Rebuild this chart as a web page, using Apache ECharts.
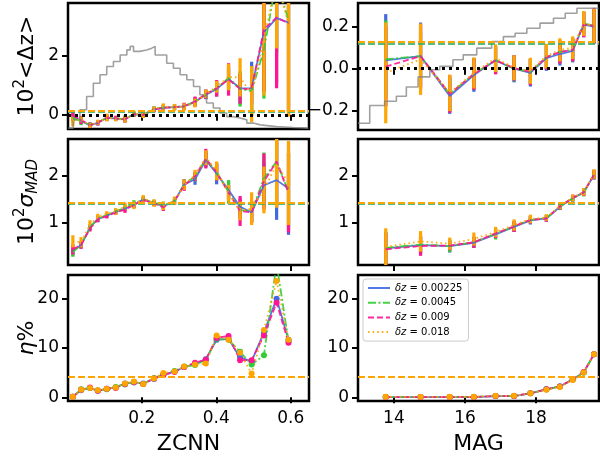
<!DOCTYPE html>
<html>
<head>
<meta charset="utf-8">
<script src="https://cdn.jsdelivr.net/npm/echarts/dist/echarts.min.js"></script>
<style>
  html, body { margin: 0; padding: 0; background: #ffffff; }
  #chart { width: 600px; height: 462px; }
</style>
</head>
<body>
<div id="chart"></div>
<script>
// ---- bin centres -------------------------------------------------------
const zcnnBins = [0.015, 0.037, 0.061, 0.082, 0.106, 0.130, 0.155, 0.179, 0.204, 0.233, 0.258,
                  0.288, 0.314, 0.343, 0.372, 0.401, 0.433, 0.464, 0.495, 0.528, 0.562, 0.594];
const magBins = [13.77, 14.75, 15.57, 16.25, 16.86, 17.38, 17.84, 18.29, 18.67, 19.03, 19.34, 19.63];

const seriesNames = ['δz = 0.00225', 'δz = 0.0045', 'δz = 0.009', 'δz = 0.018'];

// ---- 10^2 <Δz> vs ZCNN -------------------------------------------------
const dzZcnnBlue   = [-0.05, -0.20, -0.36, -0.27, -0.10, -0.13, -0.15, 0.02, 0.00, 0.18, 0.24, 0.26, 0.29, 0.44, 0.68, 0.87, 1.22, 0.90, 0.90, 2.80, 3.28, 3.13];
const dzZcnnGreen  = [-0.10, -0.22, -0.34, -0.26, -0.10, -0.12, -0.14, 0.03, 0.01, 0.20, 0.25, 0.26, 0.29, 0.45, 0.70, 0.90, 1.25, 0.88, 0.80, 2.20, 4.60, 3.20];
const dzZcnnPink   = [-0.02, -0.17, -0.35, -0.27, -0.09, -0.12, -0.15, 0.02, 0.00, 0.18, 0.24, 0.26, 0.29, 0.45, 0.70, 0.90, 1.20, 0.88, 0.88, 2.90, 3.30, 3.10];
const dzZcnnOrange = [-0.22, -0.15, -0.36, -0.25, -0.09, -0.15, -0.15, 0.03, -0.01, 0.20, 0.28, 0.26, 0.27, 0.40, 0.71, 0.95, 1.28, 1.27, 0.70, 2.60, 4.50, 3.10];
const dzZcnnErrBlue   = [0.15, 0.12, 0.09, 0.09, 0.11, 0.08, 0.10, 0.08, 0.10, 0.09, 0.10, 0.10, 0.11, 0.15, 0.15, 0.25, 0.32, 0.55, 0.90, 2.00, 2.20, 3.00];
const dzZcnnErrGreen  = [0.16, 0.13, 0.09, 0.08, 0.11, 0.08, 0.12, 0.09, 0.10, 0.09, 0.10, 0.10, 0.11, 0.15, 0.15, 0.22, 0.40, 0.60, 0.85, 1.65, 2.50, 3.10];
const dzZcnnErrPink   = [0.17, 0.14, 0.09, 0.09, 0.12, 0.09, 0.11, 0.08, 0.10, 0.09, 0.11, 0.10, 0.12, 0.17, 0.16, 0.28, 0.55, 0.50, 0.50, 2.10, 2.40, 3.10];
const dzZcnnErrOrange = [0.17, 0.10, 0.085, 0.085, 0.13, 0.07, 0.11, 0.085, 0.10, 0.085, 0.11, 0.11, 0.12, 0.15, 0.14, 0.20, 0.45, 0.65, 0.95, 1.95, 2.25, 3.16];

// ---- 10^2 σ_MAD vs ZCNN ------------------------------------------------
const sigZcnnBlue   = [0.40, 0.52, 0.90, 1.08, 1.15, 1.23, 1.30, 1.38, 1.50, 1.42, 1.35, 1.46, 1.82, 1.93, 2.34, 2.05, 1.70, 1.34, 1.22, 1.80, 1.91, 1.73];
const sigZcnnGreen  = [0.37, 0.52, 0.90, 1.08, 1.16, 1.24, 1.32, 1.40, 1.50, 1.43, 1.37, 1.46, 1.83, 1.98, 2.36, 2.08, 1.66, 1.27, 1.24, 1.95, 2.31, 1.66];
const sigZcnnPink   = [0.43, 0.52, 0.87, 1.07, 1.14, 1.22, 1.28, 1.38, 1.49, 1.41, 1.33, 1.46, 1.80, 1.99, 2.37, 2.08, 1.64, 1.25, 1.22, 1.88, 2.31, 1.64];
const sigZcnnOrange = [0.60, 0.58, 0.96, 1.12, 1.19, 1.24, 1.35, 1.37, 1.52, 1.42, 1.36, 1.47, 1.81, 2.02, 2.39, 2.11, 1.63, 1.25, 1.30, 1.70, 2.25, 1.85];
const sigZcnnErrBlue   = [0.10, 0.07, 0.06, 0.07, 0.05, 0.05, 0.06, 0.07, 0.06, 0.06, 0.08, 0.07, 0.10, 0.12, 0.16, 0.23, 0.20, 0.18, 0.22, 0.50, 0.85, 0.99];
const sigZcnnErrGreen  = [0.10, 0.07, 0.06, 0.06, 0.05, 0.06, 0.07, 0.08, 0.06, 0.06, 0.08, 0.07, 0.10, 0.10, 0.17, 0.18, 0.25, 0.18, 0.22, 0.55, 0.90, 0.82];
const sigZcnnErrPink   = [0.11, 0.08, 0.06, 0.06, 0.05, 0.05, 0.07, 0.06, 0.06, 0.06, 0.08, 0.07, 0.12, 0.10, 0.21, 0.18, 0.15, 0.32, 0.23, 0.60, 0.97, 0.85];
const sigZcnnErrOrange = [0.13, 0.11, 0.09, 0.07, 0.055, 0.07, 0.08, 0.08, 0.07, 0.08, 0.09, 0.09, 0.11, 0.11, 0.16, 0.20, 0.18, 0.20, 0.35, 0.50, 0.93, 0.90];

// ---- η% vs ZCNN --------------------------------------------------------
const etaZcnnBlue   = [0.1, 1.4, 1.9, 1.3, 1.7, 2.0, 2.8, 3.0, 2.8, 3.7, 4.6, 5.2, 6.1, 6.7, 7.7, 11.6, 11.8, 8.0, 7.3, 13.1, 19.9, 11.6];
const etaZcnnGreen  = [0.1, 1.6, 1.9, 1.4, 1.6, 2.1, 2.6, 3.1, 2.7, 3.9, 4.6, 5.3, 6.2, 6.5, 7.6, 11.8, 11.6, 9.2, 6.6, 8.5, 27.0, 11.3];
const etaZcnnPink   = [0.1, 1.5, 2.0, 1.3, 1.7, 1.9, 2.7, 3.1, 2.7, 3.8, 4.5, 5.1, 6.1, 7.0, 7.6, 12.0, 12.4, 7.5, 7.5, 12.5, 19.1, 11.0];
const etaZcnnOrange = [0.1, 1.5, 1.9, 1.4, 1.7, 2.0, 2.8, 3.2, 2.7, 3.8, 4.9, 5.2, 6.2, 6.6, 6.8, 12.5, 11.6, 9.0, 4.8, 13.6, 23.5, 11.6];

// ---- 10^2 <Δz> vs MAG --------------------------------------------------
const dzMagBlue   = [0.04, 0.06, -0.13, -0.03, 0.04, 0.000, -0.020, 0.050, 0.070, 0.085, 0.210, 0.200];
const dzMagGreen  = [0.045, 0.06, -0.12, -0.025, 0.04, 0.000, -0.015, 0.055, 0.080, 0.090, 0.215, 0.205];
const dzMagPink   = [0.01, 0.06, -0.12, -0.025, 0.04, 0.003, -0.015, 0.055, 0.080, 0.090, 0.210, 0.205];
const dzMagOrange = [-0.02, 0.045, -0.115, -0.02, 0.05, 0.005, -0.010, 0.060, 0.090, 0.100, 0.215, 0.205];
const dzMagErrBlue   = [0.22, 0.16, 0.085, 0.080, 0.065, 0.065, 0.065, 0.060, 0.055, 0.055, 0.060, 0.080];
const dzMagErrGreen  = [0.185, 0.112, 0.085, 0.075, 0.065, 0.060, 0.060, 0.058, 0.055, 0.055, 0.058, 0.075];
const dzMagErrPink   = [0.19, 0.15, 0.090, 0.076, 0.067, 0.060, 0.063, 0.060, 0.056, 0.055, 0.060, 0.085];
const dzMagErrOrange = [0.24, 0.17, 0.087, 0.074, 0.066, 0.059, 0.062, 0.059, 0.055, 0.054, 0.059, 0.080];

// ---- 10^2 σ_MAD vs MAG -------------------------------------------------
const sigMagBlue   = [0.45, 0.52, 0.50, 0.57, 0.75, 0.91, 1.05, 1.09, 1.34, 1.52, 1.65, 2.02];
const sigMagGreen  = [0.46, 0.53, 0.50, 0.58, 0.76, 0.92, 1.06, 1.10, 1.34, 1.52, 1.64, 2.03];
const sigMagPink   = [0.43, 0.50, 0.51, 0.58, 0.77, 0.92, 1.06, 1.09, 1.35, 1.53, 1.65, 2.03];
const sigMagOrange = [0.48, 0.60, 0.55, 0.65, 0.80, 0.95, 1.08, 1.11, 1.36, 1.53, 1.66, 2.04];
const sigMagErrBlue   = [0.35, 0.18, 0.14, 0.11, 0.10, 0.11, 0.09, 0.07, 0.07, 0.07, 0.08, 0.10];
const sigMagErrGreen  = [0.35, 0.18, 0.13, 0.12, 0.12, 0.11, 0.08, 0.07, 0.07, 0.07, 0.08, 0.10];
const sigMagErrPink   = [0.35, 0.21, 0.10, 0.12, 0.10, 0.12, 0.08, 0.07, 0.07, 0.07, 0.08, 0.10];
const sigMagErrOrange = [0.40, 0.22, 0.13, 0.14, 0.11, 0.12, 0.09, 0.07, 0.07, 0.07, 0.08, 0.10];

// ---- η% vs MAG ---------------------------------------------------------
const etaMagBlue   = [0.05, 0.05, 0.05, 0.05, 0.25, 0.25, 0.8, 1.6, 2.2, 3.6, 5.0, 8.7];
const etaMagGreen  = [0.05, 0.05, 0.05, 0.06, 0.25, 0.26, 0.8, 1.6, 2.2, 3.6, 5.0, 8.7];
const etaMagPink   = [0.05, 0.05, 0.05, 0.05, 0.25, 0.25, 0.8, 1.6, 2.2, 3.6, 5.1, 8.7];
const etaMagOrange = [0.10, 0.10, 0.10, 0.10, 0.30, 0.30, 0.8, 1.5, 2.1, 3.5, 5.0, 8.7];

// ---- overall values (horizontal reference lines) -----------------------
const meanDz  = [0.118, 0.122, 0.125, 0.130];
const meanSig = [1.40, 1.41, 1.42, 1.43];
const meanEta = [4.10, 4.12, 4.14, 4.16];

// ---- scaled sample distributions (grey step outlines) ------------------
const histZcnnEdges = [0.003, 0.016, 0.034, 0.052, 0.070, 0.088, 0.106, 0.124, 0.142, 0.160, 0.169, 0.178,
                       0.195, 0.213, 0.227, 0.236, 0.249, 0.267, 0.285, 0.303, 0.321, 0.339, 0.356, 0.374,
                       0.392, 0.410, 0.428, 0.446, 0.464, 0.482, 0.500, 0.518, 0.562, 0.607, 0.647];
const histZcnnHeights = [-0.45, -0.17, 0.17, 0.62, 1.07, 1.36, 1.64, 1.81, 2.03, 2.20, 2.32, 2.15,
                         2.20, 2.26, 2.32, 2.03, 2.03, 1.75, 1.58, 1.36, 1.19, 0.96, 0.68, 0.40,
                         0.23, 0.06, -0.06, -0.11, -0.17, -0.28, -0.34, -0.40, -0.43, -0.45];
const histMagEdges = [12.99, 13.32, 13.74, 14.07, 14.35, 14.68, 15.01, 15.29, 15.66, 15.95, 16.33,
                      16.75, 17.08, 17.41, 17.74, 18.11, 18.49, 18.82, 19.15, 19.76];
const histMagHeights = [-0.26, -0.175, -0.155, -0.131, -0.087, -0.039, -0.005, 0.011, 0.043, 0.066,
                        0.098, 0.129, 0.153, 0.169, 0.193, 0.217, 0.240, 0.264, 0.288];

// ---- styling -----------------------------------------------------------
const FONT = 'DejaVu Sans';
const colors = ['#4169e1', '#32cd32', '#ff1493', '#ffa500'];
const lineDash = ['solid', [8, 2.5, 2, 2.5], [6, 3], [1.6, 3]];

const grids = [
  { left: 68,  top: 3,   width: 241, height: 126 },
  { left: 358, top: 3,   width: 241, height: 127 },
  { left: 68,  top: 139, width: 241, height: 126 },
  { left: 358, top: 139, width: 241, height: 126 },
  { left: 68,  top: 275, width: 241, height: 126 },
  { left: 358, top: 275, width: 241, height: 126 }
];

const rich = {
  n: { fontSize: 22, fontFamily: FONT, color: '#000', verticalAlign: 'bottom', padding: [0, 0, 3, 0] },
  i: { fontSize: 22, fontFamily: FONT, color: '#000', fontStyle: 'italic', verticalAlign: 'bottom', padding: [0, 0, 3, 0] },
  s: { fontSize: 15, fontFamily: FONT, color: '#000', verticalAlign: 'bottom', padding: [0, 0, 13, 0] },
  b: { fontSize: 15, fontFamily: FONT, color: '#000', fontStyle: 'italic', verticalAlign: 'bottom', padding: [0, 0, 0, 0] }
};

const tickStyle = { show: true, inside: false, length: 6, lineStyle: { color: '#000', width: 2 } };
const labelStyle = { color: '#000', fontFamily: FONT, fontSize: 17 };

// matplotlib-style tick text with a true minus sign
function tickText(v, digits) {
  const s = Math.abs(v).toFixed(digits);
  return v < 0 ? '\u2212' + s : s;
}

function xAxis(grid, range, ticks, name) {
  return {
    type: 'value', gridIndex: grid, min: range[0], max: range[1],
    splitLine: { show: false }, axisLine: { show: false },
    axisTick: Object.assign({ customValues: ticks }, tickStyle),
    axisLabel: Object.assign({ show: !!name, customValues: ticks, margin: 9,
      formatter: v => String(v) }, labelStyle),
    name: name || '', nameLocation: 'middle', nameGap: 32, nameMoveOverlap: false,
    nameTextStyle: { color: '#000', fontFamily: FONT, fontSize: 22 }
  };
}

function yAxis(grid, range, ticks, name, digits) {
  return {
    type: 'value', gridIndex: grid, min: range[0], max: range[1],
    splitLine: { show: false }, axisLine: { show: false },
    axisTick: Object.assign({ customValues: ticks }, tickStyle),
    axisLabel: Object.assign({ customValues: ticks, margin: 9,
      formatter: v => tickText(v, digits) }, labelStyle),
    name: name || '', nameLocation: 'middle', nameRotate: 90, nameGap: 27,
    nameMoveOverlap: false,
    nameTextStyle: { rich: rich }
  };
}

const xZ = [0.002, 0.649];
const xM = [12.99, 19.77];

const xAxes = [
  xAxis(0, xZ, [0.2, 0.4, 0.6]), xAxis(1, xM, [14, 16, 18]),
  xAxis(2, xZ, [0.2, 0.4, 0.6]), xAxis(3, xM, [14, 16, 18]),
  xAxis(4, xZ, [0.2, 0.4, 0.6], 'ZCNN'), xAxis(5, xM, [14, 16, 18], 'MAG')
];
const yAxes = [
  yAxis(0, [-0.48, 3.79], [0, 2], '{n|10}{s|2}{n|<Δz>}', 0),
  yAxis(1, [-0.292, 0.313], [-0.2, 0, 0.2], '', 1),
  yAxis(2, [0.094, 2.79], [1, 2], '{n|10}{s|2}{i|σ}{b|MAD}', 0),
  yAxis(3, [0.094, 2.79], [1, 2], '', 0),
  yAxis(4, [-0.75, 24.7], [0, 10, 20], '{i|η}{n|%}', 0),
  yAxis(5, [-0.75, 24.7], [0, 10, 20], '', 0)
];

// vertical error bar, clipped to its panel
function errorBarRenderer(color) {
  return function (params, api) {
    const x = api.value(0), y = api.value(1), e = api.value(2);
    const top = api.coord([x, y + e]);
    const bot = api.coord([x, y - e]);
    const w = 3.2;
    const cs = params.coordSys;
    const rect = echarts.graphic.clipRectByRect(
      { x: top[0] - w / 2, y: top[1], width: w, height: bot[1] - top[1] },
      { x: cs.x, y: cs.y, width: cs.width, height: cs.height });
    if (!rect) return;
    return { type: 'rect', shape: rect, style: { fill: color } };
  };
}

function stepOutline(edges, heights) {
  const pts = heights.map((h, i) => [edges[i], h]);
  pts.push([edges[edges.length - 1], heights[heights.length - 1]]);
  return pts;
}

const series = [];

function addHistogram(grid, edges, heights) {
  series.push({
    type: 'line', xAxisIndex: grid, yAxisIndex: grid, step: 'end', symbol: 'none',
    silent: true, data: stepOutline(edges, heights),
    lineStyle: { color: '#808080', width: 1.6, opacity: 0.75 },
    markLine: {
      silent: true, symbol: 'none', label: { show: false },
      lineStyle: { color: '#000', type: [3, 4], width: 3 },
      data: [{ yAxis: 0 }]
    }
  });
}

function addPanel(grid, xs, valueSets, errSets, means, markers) {
  valueSets.forEach((vals, k) => {
    if (errSets) {
      series.push({
        type: 'custom', xAxisIndex: grid, yAxisIndex: grid, silent: true,
        renderItem: errorBarRenderer(colors[k]),
        data: xs.map((x, i) => [x, vals[i], errSets[k][i]])
      });
    }
    series.push({
      name: seriesNames[k], type: 'line', xAxisIndex: grid, yAxisIndex: grid,
      data: xs.map((x, i) => [x, vals[i]]),
      symbol: markers ? 'circle' : 'none', symbolSize: 6, showSymbol: !!markers,
      itemStyle: { color: colors[k] },
      lineStyle: { color: colors[k], width: 1.8, type: lineDash[k], opacity: 0.9 },
      markLine: {
        silent: true, symbol: 'none', label: { show: false },
        lineStyle: { color: colors[k], type: [7, 3], width: 2, opacity: k === 3 ? 1 : 0.6 },
        data: [{ yAxis: means[k] }]
      }
    });
  });
}

addHistogram(0, histZcnnEdges, histZcnnHeights);
addHistogram(1, histMagEdges, histMagHeights);

addPanel(0, zcnnBins, [dzZcnnBlue, dzZcnnGreen, dzZcnnPink, dzZcnnOrange],
  [dzZcnnErrBlue, dzZcnnErrGreen, dzZcnnErrPink, dzZcnnErrOrange], meanDz, false);
addPanel(1, magBins, [dzMagBlue, dzMagGreen, dzMagPink, dzMagOrange],
  [dzMagErrBlue, dzMagErrGreen, dzMagErrPink, dzMagErrOrange], meanDz, false);
addPanel(2, zcnnBins, [sigZcnnBlue, sigZcnnGreen, sigZcnnPink, sigZcnnOrange],
  [sigZcnnErrBlue, sigZcnnErrGreen, sigZcnnErrPink, sigZcnnErrOrange], meanSig, false);
addPanel(3, magBins, [sigMagBlue, sigMagGreen, sigMagPink, sigMagOrange],
  [sigMagErrBlue, sigMagErrGreen, sigMagErrPink, sigMagErrOrange], meanSig, false);
addPanel(4, zcnnBins, [etaZcnnBlue, etaZcnnGreen, etaZcnnPink, etaZcnnOrange], null, meanEta, true);
addPanel(5, magBins, [etaMagBlue, etaMagGreen, etaMagPink, etaMagOrange], null, meanEta, true);

const chart = echarts.init(document.getElementById('chart'), null, { renderer: 'canvas' });
chart.setOption({
  animation: false,
  backgroundColor: '#ffffff',
  textStyle: { fontFamily: FONT },
  grid: grids.map(g => Object.assign({ show: true, borderColor: '#000', borderWidth: 2.5,
    backgroundColor: 'transparent' }, g)),
  xAxis: xAxes,
  yAxis: yAxes,
  legend: {
    data: seriesNames, orient: 'vertical', left: 363, top: 279,
    itemWidth: 22, itemHeight: 10, itemGap: 4.7,
    padding: [4, 6, 4, 4],
    backgroundColor: 'rgba(255,255,255,0.85)', borderColor: '#cccccc', borderWidth: 1, borderRadius: 3,
    itemStyle: { opacity: 0 },
    selectedMode: false,
    formatter: name => '{i|δz}{t|' + name.slice(2) + '}',
    textStyle: {
      fontFamily: FONT, fontSize: 10, color: '#000',
      rich: {
        i: { fontFamily: FONT, fontSize: 10, fontStyle: 'italic', color: '#000' },
        t: { fontFamily: FONT, fontSize: 10, color: '#000' }
      }
    }
  },
  series: series
});
</script>
</body>
</html>
